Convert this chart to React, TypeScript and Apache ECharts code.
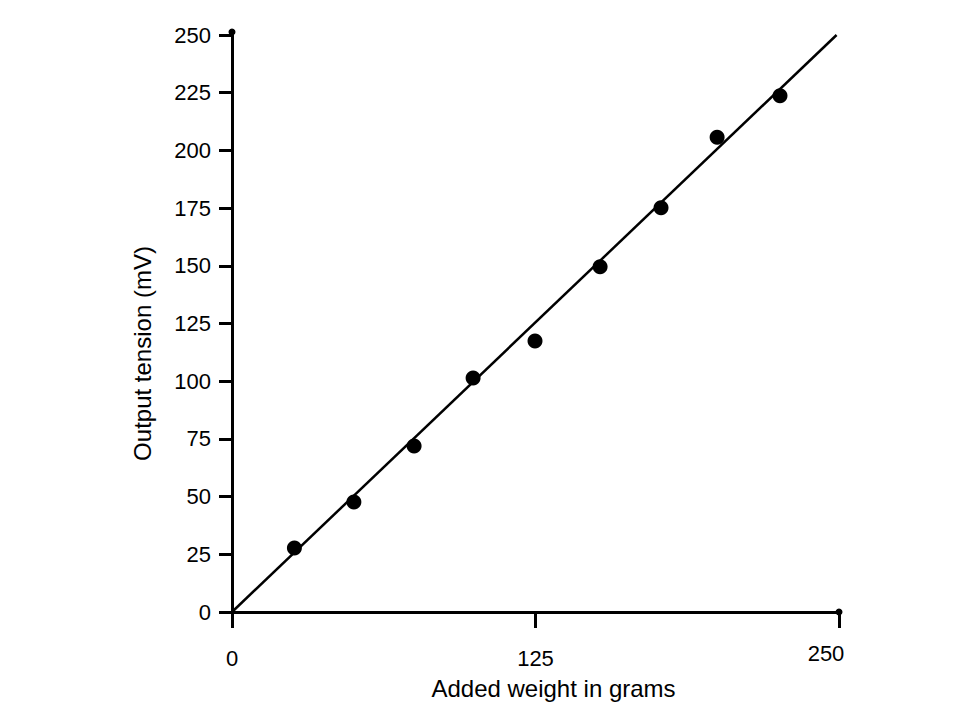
import React, { useEffect, useRef } from "react";
import * as echarts from "echarts";

const weights = [25.7, 50.2, 75, 99.3, 124.8, 151.6, 176.7, 199.8, 225.7];
const tensions = [27.7, 47.7, 71.9, 101.4, 117.4, 149.6, 175.2, 205.7, 223.7];
const fitLine = [
  [0, 0],
  [249, 250],
];
const xTicks = [0, 125, 250];
const yTicks = [0, 25, 50, 75, 100, 125, 150, 175, 200, 225, 250];

export default function App() {
  const ref = useRef<HTMLDivElement>(null);
  useEffect(() => {
    document.body.style.margin = "0";
    const chart = echarts.init(ref.current!, null, { renderer: "svg" });
    const font = "'Liberation Sans', Arial, sans-serif";
    chart.setOption({
      animation: false,
      backgroundColor: "#ffffff",
      grid: { left: 232, right: 121, top: 35, bottom: 108 },
      xAxis: {
        type: "value",
        min: xTicks[0],
        max: xTicks[xTicks.length - 1],
        interval: 125,
        name: "Added weight in grams",
        nameLocation: "middle",
        nameGap: 64,
        nameTextStyle: {
          fontSize: 24,
          color: "#000",
          fontFamily: font,
          verticalAlign: "top",
          padding: [0, 0, 0, 36],
        },
        axisLine: {
          show: true,
          onZero: false,
          symbol: ["none", "circle"],
          symbolSize: [7, 7],
          lineStyle: { color: "#000", width: 3 },
        },
        axisTick: { show: true, inside: false, length: 16, lineStyle: { color: "#000", width: 3 } },
        axisLabel: {
          margin: 35,
          fontSize: 22,
          color: "#000",
          fontFamily: font,
          formatter: (v: number) => (v === 250 ? "{e|250}" : String(v)),
          rich: {
            e: { fontSize: 22, color: "#000", fontFamily: font, padding: [0, 26, 0, 0], lineHeight: 13 },
          },
        },
        splitLine: { show: false },
      },
      yAxis: {
        type: "value",
        min: yTicks[0],
        max: yTicks[yTicks.length - 1],
        interval: 25,
        name: "Output tension (mV)",
        nameLocation: "middle",
        nameGap: 78,
        nameTextStyle: { fontSize: 24, color: "#000", fontFamily: font, padding: [0, 60, 0, 0] },
        axisLine: {
          show: true,
          onZero: false,
          symbol: ["none", "circle"],
          symbolSize: [7, 7],
          symbolOffset: [0, 3],
          lineStyle: { color: "#000", width: 3 },
        },
        axisTick: { show: true, inside: false, length: 13, lineStyle: { color: "#000", width: 3 } },
        axisLabel: { margin: 21, fontSize: 22, color: "#000", fontFamily: font },
        splitLine: { show: false },
      },
      series: [
        {
          type: "line",
          data: fitLine,
          symbol: "none",
          lineStyle: { color: "#000", width: 2.5 },
          silent: true,
        },
        {
          type: "scatter",
          data: weights.map((w, i) => [w, tensions[i]]),
          symbol: "circle",
          symbolSize: 15,
          itemStyle: { color: "#000", opacity: 1 },
        },
      ],
    });
    return () => chart.dispose();
  }, []);
  return <div ref={ref} style={{ width: 960, height: 720 }} />;
}
